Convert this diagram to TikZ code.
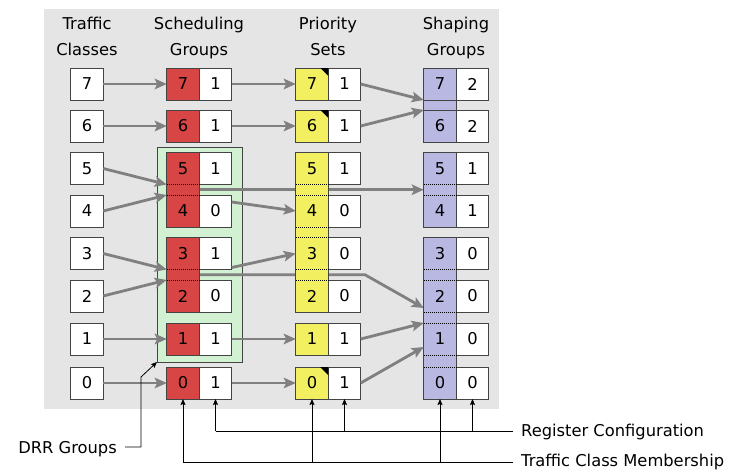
\documentclass[tikz,border=0pt]{standalone}
\usepackage{fontspec}
\setmainfont{DejaVu Sans}
\usetikzlibrary{arrows.meta,calc}
\pgfdeclarelayer{back}
\pgfdeclarelayer{lines}
\pgfdeclarelayer{groups}
\pgfsetlayers{back,lines,groups,main}
\definecolor{bgcol}{RGB}{229,229,229}
\definecolor{sgred}{RGB}{216,69,69}
\definecolor{psyel}{RGB}{242,240,96}
\definecolor{shblue}{RGB}{184,184,226}
\definecolor{drrgreen}{RGB}{210,240,210}
\definecolor{arrgray}{RGB}{128,128,128}
\definecolor{edge}{RGB}{68,68,68}
\begin{document}
\begin{tikzpicture}[x=1pt,y=-1pt,
  every node/.style={font=\fontsize{16.3}{19.5}\selectfont},
  cellbox/.style={minimum width=32.5pt,minimum height=32pt,inner sep=0pt,outer sep=0pt},
  whitecell/.style={cellbox,draw=edge,fill=white,line width=0.9pt},
  colcell/.style={cellbox},
  grp/.style={draw=edge,line width=0.9pt},
  sepline/.style={black,line width=0.8pt,dash pattern=on 1pt off 1pt},
  garrow/.style={draw=arrgray,line width=2.8pt,line join=round,-{Stealth[length=12pt,width=10.5pt,inset=2.5pt]}},
  barrow/.style={draw=black,line width=0.8pt,-{Stealth[length=6pt,width=5pt,inset=1pt]}},
  bline/.style={draw=black,line width=0.8pt},
  head/.style={anchor=base,inner sep=0pt},
  label/.style={inner sep=0pt}
]
\useasboundingbox (0,0) rectangle (732,471);
\begin{pgfonlayer}{back}
  \fill[bgcol] (44,9) rectangle (499,409);
  \node[draw=edge,fill=drrgreen,line width=0.9pt,inner sep=0pt,outer sep=0pt,
        minimum width=85pt,minimum height=215pt] (drrbox) at (199.5,254.5) {};
\end{pgfonlayer}

% headers
\node[head] (h1a) at (87,30) {Traffic};
\node[head] (h1b) at (87,56) {Classes};
\node[head] (h2a) at (199,30) {Scheduling};
\node[head] (h2b) at (199,56) {Groups};
\node[head] (h3a) at (328,30) {Priority};
\node[head] (h3b) at (328,56) {Sets};
\node[head] (h4a) at (456,30) {Shaping};
\node[head] (h4b) at (456,56) {Groups};

% cells
\foreach \k/\y/\a/\b/\c in {7/84/1/1/2,6/126/1/1/2,5/168.5/1/1/1,4/211/0/0/1,
                             3/253.5/1/0/0,2/296/0/0/0,1/339/1/1/0,0/383/1/1/0}{
  \node[whitecell] (tc\k) at (87,\y) {\k};
  \node[colcell] (sgr\k) at (183,\y) {\k};
  \node[whitecell] (sgw\k) at (215.5,\y) {\a};
  \node[colcell] (psy\k) at (312,\y) {\k};
  \node[whitecell] (psw\k) at (344.5,\y) {\b};
  \node[colcell] (shb\k) at (440,\y) {\k};
  \node[whitecell] (shw\k) at (472.5,\y) {\c};
}

% group fills
\begin{pgfonlayer}{groups}
  \foreach \a/\b in {7/7,6/6,5/4,3/2,1/1,0/0}
    \draw[grp,fill=sgred] (sgr\a.north west) rectangle (sgr\b.south east);
  \foreach \a/\b in {7/7,6/6,5/2,1/1,0/0}
    \draw[grp,fill=psyel] (psy\a.north west) rectangle (psy\b.south east);
  \foreach \a/\b in {7/6,5/4,3/0}
    \draw[grp,fill=shblue] (shb\a.north west) rectangle (shb\b.south east);
\end{pgfonlayer}

% priority corner marks
\foreach \k in {7,6,0}
  \fill[black] (psy\k.north east) -- ++(-8,0) -- ++(8,8) -- cycle;

% separators inside groups
\foreach \n in {sgr5,sgr3,psy5,psy4,psy3,shb5,shb3,shb2,shb1}
  \draw[sepline] (\n.south west) -- (\n.south east);
\foreach \n in {sgr4,sgr2,psy4,psy3,psy2,shb4,shb2,shb1,shb0}
  \draw[sepline] (\n.north west) -- (\n.north east);
\draw[grp] (shb7.south west) -- (shb7.south east);
\draw[grp] (shb6.north west) -- (shb6.north east);

% long lines passing behind the priority column
\begin{pgfonlayer}{lines}
  \coordinate (a1) at ($(sgr5.south east)!0.5!(sgr4.north east)$);
  \coordinate (a2) at ($(shb5.south west)!0.5!(shb4.north west)$);
  \draw[garrow] (a1) -- (a2);
  \coordinate (b1) at ($(sgr3.south east)!0.5!(sgr2.north east)$);
  \coordinate (bk) at (365,0);
  \draw[garrow] (b1) -- (b1 -| bk) -- ([yshift=4pt]shb2.south west);
\end{pgfonlayer}

% traffic classes -> scheduling groups
\foreach \k in {7,6,1,0}
  \draw[garrow] (tc\k.east) -- (sgr\k.west);
\draw[garrow] (tc5.east) -- (sgr5.south west);
\draw[garrow] (tc4.east) -- (sgr4.north west);
\draw[garrow] (tc3.east) -- (sgr3.south west);
\draw[garrow] (tc2.east) -- (sgr2.north west);

% scheduling groups -> priority sets
\foreach \k in {7,6,1,0}
  \draw[garrow] (sgw\k.east) -- (psy\k.west);
\draw[garrow] ([yshift=9pt]sgw4.east) -- (psy4.west);
\draw[garrow] ([yshift=-14pt]sgw3.east) -- (psy3.west);

% priority sets -> shaping groups
\draw[garrow] (psw7.east) -- (shb7.south west);
\draw[garrow] (psw6.east) -- (shb6.north west);
\draw[garrow] (psw1.east) -- (shb1.north west);
\draw[garrow] (psw0.east) -- ([yshift=8pt]shb1.south west);

% bottom annotations
\node[label,anchor=base west] (rc) at (521,436.5) {Register Configuration};
\node[label,anchor=base west] (tcm) at (521,466.5) {Traffic Class Membership};
\node[label,anchor=base east] (drr) at (117,453) {DRR Groups};
\coordinate (rcl) at (513,431);
\coordinate (tcl) at (513,462);
\draw[bline] (sgw0.south |- rcl) -- (rcl);
\foreach \n in {sgw0,psw0,shw0}
  \draw[barrow] (\n.south |- rcl) -- (\n.south);
\draw[bline] (sgr0.south |- tcl) -- (tcl);
\foreach \n in {sgr0,psy0,shb0}
  \draw[barrow] (\n.south |- tcl) -- (\n.south);
\coordinate (dl) at (125,447);
\coordinate (dk) at (141,377);
\draw[barrow] (dl) -- (dl -| dk) -- (dk) -- (drrbox.south west);
\end{tikzpicture}
\end{document}
